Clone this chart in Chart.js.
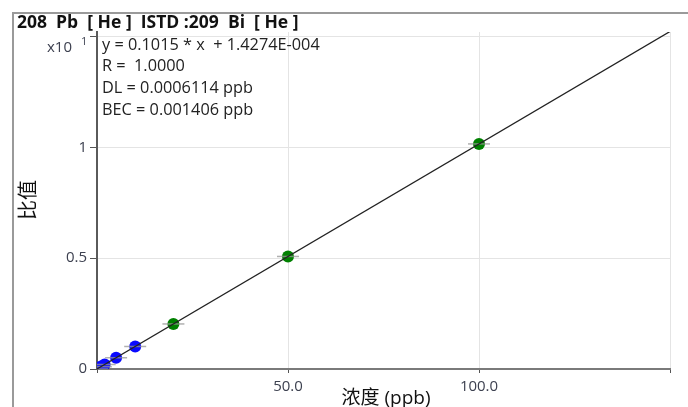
<!DOCTYPE html>
<html>
<head>
<meta charset="utf-8">
<script src="https://cdn.jsdelivr.net/npm/chart.js@4/dist/chart.umd.min.js"></script>
<style>
html,body{margin:0;padding:0;background:#fff;}
#wrap{width:688px;height:407px;position:relative;}
</style>
</head>
<body>
<div id="wrap"><canvas id="c" width="688" height="407"></canvas></div>
<script>
// ---- data (y in units of x10^1 of ratio) ----
const blueX = [0, 1, 2, 5, 10];
const blueY = [0.0001, 0.0102, 0.0203, 0.0508, 0.1016];
const greenX = [20, 50, 100];
const greenY = [0.2032, 0.5076, 1.0152];
const fitX = [0, 150];
const fitY = [0.0000143, 1.5225];
const xTicks = [0, 50, 100, 150];
const xTickLabels = ['', '50.0', '100.0', ''];
const yTicks = [0, 0.5, 1, 1.5];
const yTickLabels = ['0', '0.5', '1', ''];
const titleText = '208  Pb  [ He ]  ISTD :209  Bi  [ He ]';
const infoLines = ['y = 0.1015 * x  + 1.4274E-004', 'R =  1.0000', 'DL = 0.0006114 ppb', 'BEC = 0.001406 ppb'];
const xTitle = '浓度 (ppb)';
const yTitle = '比值';

const pts = (xs, ys) => xs.map((x, i) => ({x: x, y: ys[i]}));
const allX = blueX.concat(greenX), allY = blueY.concat(greenY);

const FONT = '"Open Sans","Noto Sans","Noto Sans CJK SC",sans-serif';
const tickCol = '#3d4150';

const decor = {
  id: 'decor',
  beforeDraw(chart) {
    const ctx = chart.ctx;
    ctx.save();
    ctx.fillStyle = '#fff';
    ctx.fillRect(0, 0, chart.width, chart.height);
    ctx.restore();
  },
  afterDraw(chart) {
    const ctx = chart.ctx;
    ctx.save();
    // window frame
    ctx.strokeStyle = '#9a9a9a';
    ctx.lineWidth = 2;
    ctx.beginPath();
    ctx.moveTo(13, 407); ctx.lineTo(13, 13); ctx.lineTo(688, 13);
    ctx.stroke();
    // title
    ctx.fillStyle = '#111';
    ctx.font = 'bold 17.5px ' + FONT;
    ctx.textBaseline = 'middle';
    ctx.textAlign = 'left';
    ctx.fillText(titleText, 17, 23);
    // info
    ctx.font = '16.3px ' + FONT;
    ctx.fillStyle = '#222';
    infoLines.forEach((t, i) => ctx.fillText(t, 102, 45 + i * 21.7));
    // x10^1
    ctx.fillStyle = tickCol;
    ctx.font = '15px ' + FONT;
    ctx.fillText('x10', 47, 48);
    ctx.font = '11px ' + FONT;
    ctx.fillText('1', 81, 42);
    // y title
    ctx.fillStyle = '#111';
    ctx.font = '20px "Noto Sans CJK SC",sans-serif';
    ctx.translate(27, 200);
    ctx.rotate(-Math.PI / 2);
    ctx.textAlign = 'center';
    ctx.fillText(yTitle, 0, 0);
    ctx.restore();
    ctx.save();
    ctx.fillStyle = '#111';
    ctx.font = '19px "Open Sans","Noto Sans CJK SC",sans-serif';
    ctx.textAlign = 'center';
    ctx.textBaseline = 'middle';
    ctx.fillText(xTitle, 386, 399);
    ctx.restore();
  }
};

new Chart(document.getElementById('c'), {
  type: 'scatter',
  data: {
    datasets: [
      {
        label: 'fit', type: 'line', data: pts(fitX, fitY),
        borderColor: '#222', borderWidth: 1.2, pointRadius: 0, fill: false, order: 1
      },
      {
        label: 'err', data: pts(allX, allY),
        pointStyle: 'line', pointRadius: 11, borderColor: 'rgba(150,150,150,0.75)',
        borderWidth: 1.5, backgroundColor: 'rgba(0,0,0,0)', order: 2
      },
      {
        label: 'std', data: pts(blueX, blueY),
        pointStyle: 'circle', pointRadius: 6, backgroundColor: '#0a0aff', borderColor: '#0a0aff', borderWidth: 0, order: 3
      },
      {
        label: 'cal', data: pts(greenX, greenY),
        pointStyle: 'circle', pointRadius: 6, backgroundColor: '#008000', borderColor: '#008000', borderWidth: 0, order: 3
      }
    ]
  },
  options: {
    responsive: false,
    animation: false,
    layout: {padding: {left: 0, right: 18, top: 32, bottom: 0}},
    plugins: {legend: {display: false}, tooltip: {enabled: false}, title: {display: false}},
    scales: {
      x: {
        type: 'linear', min: 0, max: 150,
        afterBuildTicks: s => { s.ticks = xTicks.map(v => ({value: v})); },
        afterFit: s => { s.height = 38; },
        grid: {color: '#e4e4e4', lineWidth: 1, tickColor: '#555', tickLength: 4, drawOnChartArea: true},
        border: {color: '#7a7a7a', width: 2},
        ticks: {
          color: tickCol, font: {size: 15, family: FONT}, padding: 5, maxRotation: 0,
          autoSkip: false,
          callback: (v, i) => xTickLabels[i]
        }
      },
      y: {
        type: 'linear', min: 0, max: 1.52,
        afterBuildTicks: s => { s.ticks = yTicks.map(v => ({value: v})); },
        afterFit: s => { s.width = 97; },
        grid: {color: '#e4e4e4', lineWidth: 1, tickColor: '#555', tickLength: 7},
        border: {color: '#5a5a5a', width: 2},
        ticks: {
          color: tickCol, font: {size: 15, family: FONT}, padding: 3,
          autoSkip: false,
          callback: (v, i) => yTickLabels[i]
        }
      }
    }
  },
  plugins: [decor]
});
</script>
</body>
</html>
